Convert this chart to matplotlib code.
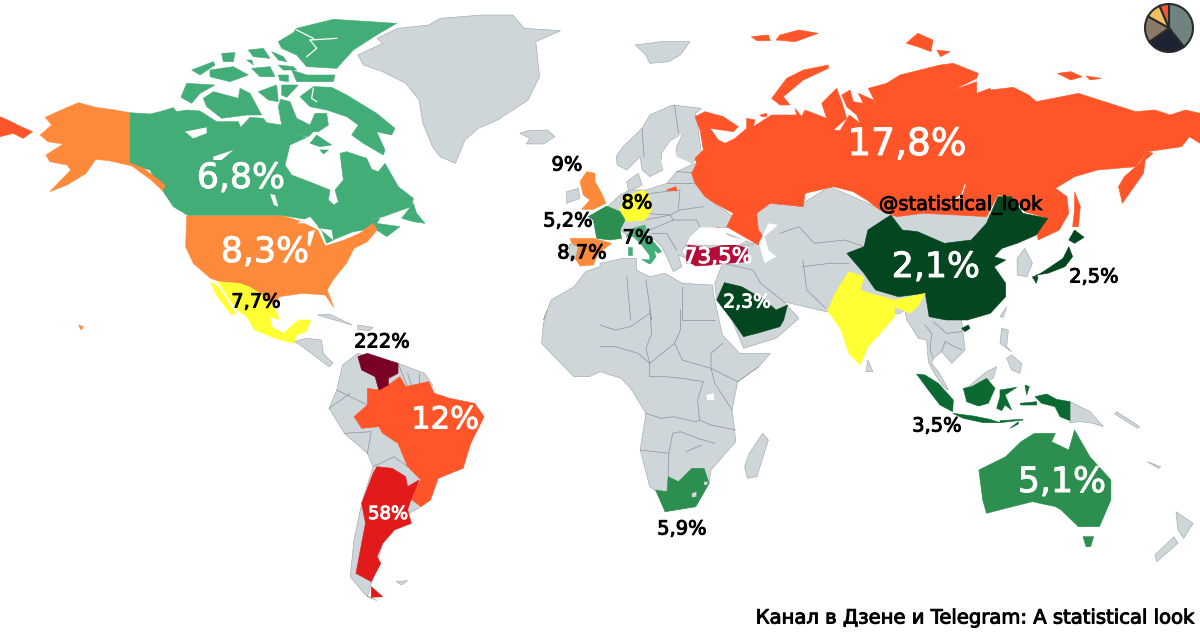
import matplotlib
matplotlib.use('Agg')
import matplotlib.pyplot as plt
import matplotlib.patheffects as pe
from matplotlib.patches import Polygon

def crop(ox, oy, sx=2.613, sy=3.0):
    def conv(points):
        return [(ox + x / sx, oy + y / sy) for x, y in points]
    return conv

nw = crop(0, 0)
ne = crop(600, 0)
sw = crop(0, 310)
se = crop(600, 310)
eu = crop(530, 140, 3.0, 3.0)
can = crop(150, 10, 3.0, 3.0)
rus = crop(690, 60, 3.0, 3.0)
sea = crop(890, 300, 3.0, 3.0)

GRAY = '#cfd6da'
CANADA = '#43ad78'
USA = '#fd8a3b'
RUSSIA = '#ff5529'
CHINA = '#04461f'
INDONESIA = '#0a6a32'
MID_GREEN = '#2c8f4f'
YELLOW = '#ffff33'
TURKEY = '#b50d3a'
VENEZUELA = '#7a0026'
ARGENTINA = '#e21a1c'

# gray land
greenland = nw([(935,165),(1000,130),(985,115),(1040,85),(1120,75),(1150,55),(1260,45),(1340,45),(1370,85),(1465,92),(1400,125),(1410,230),(1380,300),(1300,360),(1250,385),(1215,420),(1190,490),(1150,470),(1130,440),(1105,370),(1095,300),(1060,250),(1000,215),(950,195)])
iceland = nw([(1358,400),(1380,392),(1430,390),(1450,410),(1420,432),(1375,432),(1385,415)])
svalbard = ne([(92,135),(160,125),(235,125),(210,165),(180,185),(130,190),(120,165)])
scandinavia = ne([(42,470),(60,440),(110,385),(130,345),(190,315),(265,325),(250,340),(258,400),(265,460),(240,490),(195,480),(200,440),(215,405),(185,420),(160,460),(165,510),(130,530),(110,510),(105,470),(70,510),(45,495)])
denmark = ne([(70,545),(100,520),(110,555),(75,575)])
europe = eu([(175,230),(235,198),(270,165),(300,150),(350,150),(410,130),(440,95),(495,70),(540,180),(610,230),(600,262),(510,262),(480,290),(470,312),(455,335),(470,355),(445,345),(455,380),(430,395),(410,350),(395,320),(360,285),(345,262),(320,265),(290,285),(270,270),(285,240),(270,215)])
caucasus = ne([(330,700),(410,735),(385,750),(345,735)])
ireland = eu([(110,155),(145,145),(150,175),(110,190)])
portugal = eu([(118,312),(145,320),(135,358),(120,360)])
asia = (ne([(225,790),(225,735),(400,735),(410,630),(440,610),(530,610),(600,560),(700,610),(760,640),(830,625),(1010,640),(1140,700),(1050,745),(1000,800),(1000,900)])
        + sea([(215,60),(225,150),(185,190),(155,155),(130,175),(125,190),(145,215),(165,250),(175,270),(160,260),(130,215),(115,185),(110,120),(85,115),(70,90),(50,60),(45,30),(30,40)])
        + ne([(590,935),(480,905)])
        + se([(520,25),(460,85),(375,115),(345,30)])
        + ne([(305,900),(300,850),(320,790)]))
korea = ne([(1090,775),(1110,745),(1130,790),(1115,830),(1090,825)])
africa = (nw([(1420,960),(1440,900),(1500,860),(1530,815),(1568,800)])
          + ne([(0,790),(60,775),(95,775),(95,810),(130,830),(170,820),(215,850),(295,855),(296,880)])
          + se([(320,75),(365,130),(445,130),(415,170),(360,215),(345,300),(355,395),(290,480),(285,520),(250,590),(170,605),(150,545),(130,530),(105,420),(120,310),(80,235),(55,205),(0,185)])
          + sw([(1540,200),(1500,200),(1440,130),(1415,100),(1420,40),(1430,0)]))
madagascar = se([(425,370),(440,390),(410,500),(385,505),(378,470),(390,430)])
south_america = sw([(860,295),(880,240),(895,165),(935,130),(1040,160),(1110,190),(1130,225),(1100,400),(1100,520),(1100,590),(1070,610),(1000,700),(960,860),(985,872),(955,855),(915,800),(925,690),(945,580),(975,470),(960,430),(900,370)])
central_america = sw([(770,95),(800,85),(840,90),(845,130),(870,160),(860,170),(825,140),(790,110)])
cuba = sw([(830,15),(860,12),(920,45),(880,32)])
hispaniola = sw([(935,45),(975,52),(965,62),(935,58)])
falkland = sw([(1035,815),(1065,812),(1050,825)])
png = sea([(540,305),(600,335),(640,380),(610,370),(570,365),(540,368)])
north_borneo = sea([(235,260),(290,215),(320,200),(310,235),(245,262)])
luzon = sea([(330,130),(335,85),(355,90),(350,140),(365,155)])
visayas = sea([(365,165),(395,190),(390,220),(365,210),(350,175)])
taiwan = sea([(330,50),(350,20),(340,52)])
sri_lanka = se([(700,150),(713,185),(695,185)])
nz_north = se([(1505,605),(1550,640),(1525,685),(1510,660)])
nz_south = se([(1500,680),(1510,700),(1455,755),(1450,735)])
new_caledonia = se([(1430,455),(1465,470),(1460,475)])
solomons = se([(1350,305),(1410,350),(1405,355),(1345,312)])
gray_land = [greenland, iceland, svalbard, scandinavia, denmark, europe, caucasus, ireland, asia, korea, africa,
             madagascar, south_america, central_america, cuba, hispaniola, falkland, png, north_borneo,
             luzon, visayas, taiwan, sri_lanka, nz_north, nz_south, new_caledonia, solomons]

# coloured countries
alaska = nw([(338,338),(300,330),(250,322),(205,308),(160,330),(118,352),(135,375),(105,405),(125,425),(165,432),(120,465),(130,485),(175,495),(185,510),(130,575),(175,555),(225,520),(250,478),(285,482),(345,498),(395,540),(425,572),(432,555),(375,505),(338,488)])
lower48 = nw([(488,648),(740,648),(780,662),(830,690),(850,738),(900,720),(940,700),(975,670),(985,690),(960,725),(925,745),(905,790),(870,840),(855,870),(872,922),(850,885),(790,880),(730,890),(715,915),(680,880),(650,860),(625,850),(590,850),(550,835),(505,790),(485,740)])
hawaii = sw([(205,45),(218,50),(212,60)])
canada_main = (nw([(338,338)])
               + can([(0,312),(30,305),(70,293),(80,305),(110,300),(150,303),(200,335),(265,335),(272,352),(300,322),(340,325),(350,338),(395,345),(385,290),(392,268),(420,275),(440,325),(480,345),(495,310),(530,310),(535,345),(505,365),(490,365),(475,380),(440,372),(470,382),(420,405),(405,465),(425,495),(490,520),(540,540),(535,570),(552,585),(565,575),(555,540),(580,510),(570,430),(590,425),(650,445),(665,478),(685,485),(705,460),(745,530),(790,565),(785,590),(755,600),(700,620),(655,630),(690,625),(680,640),(750,650),(710,680),(680,660),(670,640),(640,660),(610,665),(560,685),(530,700),(515,660),(480,630),(400,617),(115,617),(70,590),(50,560),(15,510),(0,480)])
               + nw([(375,505),(338,488)]))
newfoundland = can([(755,625),(790,580),(800,610),(825,640),(790,635)])
banks = can([(93,262),(110,220),(195,225),(150,250),(125,280)])
victoria = can([(160,265),(190,245),(265,265),(270,235),(300,250),(335,315),(290,315),(215,325),(170,290)])
prince_wales = can([(325,245),(380,225),(385,275),(355,270)])
somerset = can([(395,225),(445,225),(410,262),(395,255)])
southampton = can([(480,400),(500,375),(545,405),(510,410)])
coats = can([(510,420),(535,420),(520,432)])
baffin = can([(450,260),(490,230),(545,232),(590,255),(680,310),(735,355),(725,375),(680,365),(705,420),(700,435),(640,400),(605,375),(625,345),(590,320),(530,300),(480,290)])
devon = can([(425,180),(470,195),(555,195),(550,215),(440,215)])
ellesmere = can([(385,95),(430,68),(440,55),(550,28),(740,40),(680,75),(610,120),(560,175),(470,170),(440,135),(395,115)])
melville = can([(180,180),(250,170),(295,195),(240,215),(180,200)])
patrick = can([(125,180),(190,155),(195,165),(150,195)])
bathurst = can([(305,175),(360,170),(375,200),(330,200)])
cornwallis = can([(385,195),(415,195),(415,215),(390,212)])
small_a = can([(295,120),(340,115),(360,145),(310,140)])
small_b = can([(365,125),(400,140),(410,155),(385,150)])
small_c = can([(215,130),(255,128),(250,155),(220,155)])
small_d = can([(385,165),(430,170),(440,180),(400,180)])
small_e = can([(290,150),(305,150),(310,165)])
chukotka = nw([(0,350),(20,360),(55,380),(85,395),(60,415),(35,400),(0,410)])
russia_main = (rus([(15,170),(45,155),(100,170),(145,200),(130,215),(60,205),(85,240),(105,250),(135,235),(170,205),(170,175),(195,180),(190,200),(245,165),(320,165),(315,145),(335,170),(345,150),(410,175),(395,130),(440,85),(455,125),(470,175),(430,210),(450,212),(478,165),(510,190),(500,165),(470,140),(455,105),(480,90),(490,125),(520,130),(505,100),(550,120),(565,145),(535,85),(590,70),(630,45),(750,15),(790,10),(865,40),(860,55),(790,90),(860,65),(860,100),(900,85)])
               + ne([(1020,270),(1080,262),(1120,285),(1140,305),(1250,280),(1400,335),(1450,330),(1490,345),(1530,330),(1568,340),(1568,430),(1540,410),(1520,440),(1430,455),(1400,500),(1300,510),(1240,530),(1190,565),(1220,590),(1225,640),(1200,690),(1145,720),(1140,690),(1170,655),(1110,635),(1075,590),(1040,585),(1010,650)])
               + rus([(800,465),(700,460),(620,470),(570,450),(530,420),(490,395),(430,380),(345,400),(340,440),(240,430),(200,460),(205,510),(220,530),(205,555),(110,500),(130,460),(75,430),(45,410),(15,370),(5,340),(20,310),(15,295),(40,270),(30,210)]))
novaya_zemlya = rus([(245,115),(290,55),(340,30),(415,15),(415,25),(340,60),(280,110),(300,135),(270,135)])
kolguev = rus([(210,165),(230,160),(230,170),(215,170)])
severnaya_a = ne([(800,130),(830,100),(870,120),(865,155),(830,140)])
severnaya_b = ne([(880,150),(915,155),(890,170)])
franz_josef = ne([(395,110),(440,105),(445,122),(410,122)])
franz_josef_b = ne([(470,105),(520,90),(570,100),(510,125),(460,120)])
new_siberia_a = ne([(1195,220),(1230,215),(1260,230),(1230,240)])
new_siberia_b = ne([(1270,228),(1310,235),(1280,240)])
kamchatka = ne([(1430,455),(1410,490),(1370,530),(1355,560),(1365,610),(1420,520),(1425,480),(1445,460)])
sakhalin = ne([(1240,575),(1255,620),(1250,680),(1235,680),(1240,630)])
kaliningrad = eu([(408,150),(438,140),(440,153)])
crimea = eu([(540,265),(565,262),(550,282)])
china = (ne([(760,645),(790,690),(830,695),(900,730),(970,720),(1010,670),(1040,590),(1075,590),(1105,640),(1170,655),(1140,705),(1090,730),(1050,745),(1030,770),(1060,780),(1030,800),(1060,850),(1060,890),(1020,940)])
         + se([(1020,10),(960,30),(905,30),(860,20)])
         + ne([(850,880),(780,890),(720,870),(690,820),(645,760),(690,740),(700,690)]))
hainan = sea([(215,85),(235,75),(240,85),(225,95)])
india = (ne([(650,815),(690,830),(680,870),(705,880),(770,900),(850,880),(830,920),(810,940),(790,930),(770,920)])
         + se([(770,20),(740,60),(700,110),(680,165),(650,130),(630,60),(600,10)])
         + ne([(595,935),(610,890),(625,860)]))
japan_a = ne([(1240,690),(1265,712),(1240,730),(1225,720)])
japan_b = ne([(1225,740),(1235,770),(1215,800),(1170,820),(1140,825),(1130,835),(1165,810),(1210,775)])
japan_c = ne([(1130,830),(1145,830),(1140,850)])
saudi = (ne([(325,848),(370,860),(430,900),(460,930),(490,915)])
         + se([(480,30),(470,50),(410,70),(375,80),(345,30)])
         + ne([(305,900)]))
turkey = ne([(230,735),(290,745),(340,730),(385,745),(385,785),(330,790),(290,795),(250,798),(225,780)])
germany = eu([(285,170),(340,150),(355,165),(365,210),(345,240),(290,245),(270,210)])
france = eu([(230,198),(270,215),(285,240),(270,270),(275,295),(240,300),(200,295),(190,240),(175,230)])
spain = eu([(120,295),(190,295),(245,310),(205,340),(190,375),(150,378),(135,355),(145,320),(125,310)])
uk = eu([(170,95),(195,100),(195,125),(215,160),(228,190),(190,208),(155,208),(180,180),(160,165),(150,125)])
italy = eu([(288,290),(310,265),(345,255),(350,285),(375,310),(395,335),(385,340),(372,330),(378,350),(362,372),(358,345),(335,315),(310,290)])
sicily = eu([(335,358),(365,360),(358,372)])
sardinia = eu([(293,322),(305,322),(305,345),(293,345)])
venezuela = sw([(935,140),(960,130),(1000,145),(1040,160),(1040,190),(1015,205),(1015,225),(990,240),(980,200),(945,180)])
brazil = sw([(960,235),(990,240),(1015,225),(1045,200),(1060,230),(1120,215),(1135,250),(1175,265),(1240,280),(1265,320),(1230,400),(1210,475),(1145,505),(1125,570),(1100,590),(1065,560),(1100,510),(1065,470),(1040,400),(1000,370),(990,350),(945,355),(925,320),(960,285)])
argentina = sw([(985,470),(1025,475),(1060,500),(1065,530),(1095,510),(1075,565),(1065,600),(1075,640),(1030,660),(1000,700),(985,740),(995,760),(970,815),(930,790),(955,640),(945,580),(975,490)])
fuego = sw([(970,830),(1000,860),(970,862)])
mexico = (nw([(570,845),(625,850),(650,860),(680,880),(715,915),(730,960)])
          + sw([(705,20),(710,50),(740,70),(780,30),(812,30),(800,65),(775,75),(768,100),(720,85),(665,60),(645,20),(620,0)])
          + nw([(600,900)]))
baja = nw([(550,845),(570,860),(615,940),(605,945),(565,885)])
sumatra = sea([(80,222),(105,225),(145,250),(190,300),(188,335),(150,315),(115,270)])
java = sea([(188,340),(250,348),(300,358),(330,368),(280,368),(220,355)])
lesser_sunda = sea([(330,362),(395,358),(400,360),(330,368)])
timor = sea([(360,385),(385,365),(385,372)])
borneo = sea([(220,265),(245,260),(290,235),(315,265),(295,310),(265,318),(230,305)])
sulawesi = sea([(330,270),(380,262),(345,285),(365,330),(345,315),(335,332),(320,325),(330,290)])
halmahera = sea([(405,255),(418,260),(410,285)])
seram = sea([(390,310),(440,305),(440,315),(392,315)])
papua = sea([(435,290),(470,282),(500,298),(540,305),(540,362),(510,350),(495,320),(455,310)])
australia = se([(1135,370),(1190,370),(1180,395),(1225,420),(1240,360),(1280,440),(1335,510),(1335,570),(1305,650),(1250,650),(1205,600),(1190,590),(1130,575),(1060,595),(1010,610),(1000,570),(990,480),(1060,440),(1100,395)])
tasmania = se([(1262,680),(1290,680),(1282,710),(1270,710)])
south_africa = se([(145,540),(175,545),(178,500),(205,515),(240,475),(272,475),(285,520),(250,590),(170,605)])

coloured = [
    (canada_main, CANADA), (newfoundland, CANADA), (banks, CANADA), (victoria, CANADA), (prince_wales, CANADA),
    (somerset, CANADA), (southampton, CANADA), (coats, CANADA), (baffin, CANADA), (devon, CANADA),
    (ellesmere, CANADA), (melville, CANADA), (patrick, CANADA), (bathurst, CANADA), (cornwallis, CANADA),
    (small_a, CANADA), (small_b, CANADA), (small_c, CANADA), (small_d, CANADA), (small_e, CANADA),
    (alaska, USA), (lower48, USA), (hawaii, USA), (uk, USA), (spain, USA),
    (chukotka, RUSSIA), (russia_main, RUSSIA), (novaya_zemlya, RUSSIA), (kolguev, RUSSIA), (severnaya_a, RUSSIA),
    (severnaya_b, RUSSIA), (franz_josef, RUSSIA), (franz_josef_b, RUSSIA), (new_siberia_a, RUSSIA),
    (new_siberia_b, RUSSIA), (kamchatka, RUSSIA), (sakhalin, RUSSIA), (kaliningrad, RUSSIA), (crimea, RUSSIA),
    (brazil, RUSSIA),
    (china, CHINA), (hainan, CHINA), (japan_a, CHINA), (japan_b, CHINA), (japan_c, CHINA), (saudi, CHINA),
    (india, YELLOW), (germany, YELLOW), (mexico, YELLOW), (baja, YELLOW),
    (turkey, TURKEY), (venezuela, VENEZUELA), (argentina, ARGENTINA), (fuego, ARGENTINA),
    (france, MID_GREEN), (australia, MID_GREEN), (tasmania, MID_GREEN), (south_africa, MID_GREEN),
    (italy, CANADA), (sicily, CANADA), (sardinia, CANADA),
    (sumatra, INDONESIA), (java, INDONESIA), (lesser_sunda, INDONESIA), (timor, INDONESIA), (borneo, INDONESIA),
    (sulawesi, INDONESIA), (halmahera, INDONESIA), (seram, INDONESIA), (papua, INDONESIA),
]

# lakes and inland seas, drawn white over the land
baltic = ne([(165,510),(160,480),(180,430),(215,400),(195,440),(200,470),(240,490),(195,495),(180,520)])
black_sea = eu([(470,310),(480,290),(510,262),(560,262),(600,290),(650,300),(625,315),(540,315)])
caspian = ne([(440,670),(465,675),(430,710),(440,750),(460,770),(430,790),(415,730)])
great_bear = can([(105,365),(170,352),(170,370),(130,385)])
great_slave = can([(190,440),(250,420),(215,450),(190,450)])
winnipeg = can([(360,552),(375,555),(385,590),(372,585)])
superior = can([(440,640),(480,620),(505,650),(470,640)])
michigan = can([(475,665),(495,660),(480,710),(473,705)])
huron = can([(510,655),(545,660),(550,690),(525,670)])
victoria_lake = se([(278,255),(298,250),(298,270),(280,270)])
water = [baltic, black_sea, caspian, great_bear, great_slave, winnipeg, superior, michigan, huron, victoria_lake]

baikal = rus([(825,375),(815,405),(785,425),(810,410)])
fjords = [
    can([(480,90),(560,85)]),
    can([(480,90),(500,115),(470,140)]),
    can([(440,60),(490,85)]),
    can([(490,235),(485,265),(500,275)]),
    baikal,
]
lesotho = se([(240,550),(252,545),(252,560),(240,562)])
eswatini = se([(272,515),(282,515),(280,525),(272,525)])

# thin borders between the gray countries
border_lines = [
    se([(130,0),(135,70),(120,115),(130,160),(130,200),(170,200),(215,205),(270,215),(255,270),(260,330),(290,345),(355,360)]),
    se([(195,100),(215,150),(290,175),(300,220),(345,300)]),
    se([(210,0),(210,60),(195,100),(130,160)]),
    se([(320,100),(290,130),(290,175),(360,215),(415,170)]),
    se([(120,310),(160,325),(190,320),(250,335),(260,330)]),
    se([(105,420),(180,430),(178,500)]),
    se([(180,430),(190,370),(210,365),(255,385),(300,400)]),
    se([(225,425),(265,405)]),
    se([(0,45),(40,60),(80,50),(130,10)]),
    se([(0,110),(40,110),(100,130),(130,160)]),
    sea([(105,75),(125,100),(120,150),(130,175)]),
    sea([(130,65),(170,100),(215,95)]),
    sea([(155,155),(165,125),(215,150)]),
    ne([(70,830),(80,960)]),
    ne([(120,840),(135,960)]),
    ne([(215,860),(215,960),(300,960)]),
    ne([(320,790),(400,810),(420,850),(480,905)]),
    ne([(470,700),(520,680),(560,730),(640,720),(690,740)]),
    ne([(530,780),(540,870),(590,925)]),
    ne([(530,800),(600,790),(650,790)]),
    ne([(110,385),(115,470)]),
    ne([(195,315),(205,400)]),
    eu([(360,160),(450,150),(445,210)]),
    eu([(345,240),(420,225),(450,210),(520,200)]),
    eu([(360,270),(430,240),(500,240),(510,262)]),
    eu([(365,280),(410,280),(440,330)]),
    eu([(410,130),(490,130)]),
    eu([(440,95),(520,100)]),
    eu([(340,220),(420,225),(430,240)]),
    sw([(880,240),(960,285)]),
    sw([(860,295),(915,250)]),
    sw([(900,370),(970,365),(960,430)]),
    sw([(975,470),(1030,440),(1065,470)]),
    sw([(1040,160),(1065,230)]),
    sw([(1065,190),(1075,225)]),
    sw([(1095,190),(1095,220)]),
]

# percent labels
big_labels = ['6,8%', '17,8%', '8,3%', '2,1%', '12%', '5,1%']
big_x = [241, 907, 265, 936, 445, 1062]
big_y = [178, 145, 252, 267, 420, 482]
big_sizes = [25, 27, 25, 25, 22, 25]
small_white = ['58%', '73,5%', '2,3%']
small_white_x = [388, 718, 747]
small_white_y = [514, 257, 302]
small_white_sizes = [13, 15.5, 13.5]
black_labels = ['222%', '7,7%', '9%', '5,2%', '8,7%', '8%', '7%', '2,5%', '3,5%', '5,9%']
black_x = [382, 256, 567, 568, 582, 637, 638, 1094, 937, 682]
black_y = [342, 302, 165, 221, 253, 203, 238, 277, 426, 529]

pie_values = [142, 93, 64, 38, 23]
pie_colors = ['#6f8480', '#1e2333', '#8b7b66', '#f2c15f', '#f05a33']

fig = plt.figure(figsize=(12, 6.32), dpi=100, facecolor='white')
ax = fig.add_axes([0, 0, 1, 1])
ax.set_xlim(0, 1200)
ax.set_ylim(632, 0)
ax.axis('off')

for shape in gray_land:
    ax.add_patch(Polygon(shape, closed=True, facecolor=GRAY, edgecolor='#9aa2a8', linewidth=0.4, zorder=1))
for line in border_lines:
    ax.plot([p[0] for p in line], [p[1] for p in line], color='#8a9298', linewidth=0.5, zorder=2)
for shape, colour in coloured:
    ax.add_patch(Polygon(shape, closed=True, facecolor=colour, edgecolor=colour, linewidth=0.4, zorder=3))
ax.add_patch(Polygon(portugal, closed=True, facecolor=GRAY, edgecolor='#9aa2a8', linewidth=0.4, zorder=4))
for shape in water:
    ax.add_patch(Polygon(shape, closed=True, facecolor='white', edgecolor='none', zorder=5))
for line in fjords:
    ax.plot([p[0] for p in line], [p[1] for p in line], color='white', linewidth=0.9, zorder=5)
ax.add_patch(Polygon(lesotho, closed=True, facecolor=GRAY, edgecolor='none', zorder=5))
ax.add_patch(Polygon(eswatini, closed=True, facecolor=GRAY, edgecolor='none', zorder=5))

def put_text(x, y, label, colour, size):
    ax.text(x, y, label, color=colour, fontsize=size, ha='center', va='center', zorder=6,
            path_effects=[pe.withStroke(linewidth=0.7, foreground=colour)])

for label, x, y, size in zip(big_labels, big_x, big_y, big_sizes):
    put_text(x, y, label, 'white', size)
for label, x, y, size in zip(small_white, small_white_x, small_white_y, small_white_sizes):
    put_text(x, y, label, 'white', size)
for label, x, y in zip(black_labels, black_x, black_y):
    put_text(x, y, label, 'black', 14)

put_text(961, 205, '@statistical_look', 'black', 14)
put_text(975, 618, 'Канал в Дзене и Telegram: A statistical look', 'black', 14.1)

# small pie in the corner
pie_ax = fig.add_axes([(1169 - 26.4) / 1200, 1 - (28 + 26.4) / 632, 52.8 / 1200, 52.8 / 632])
pie_ax.pie(pie_values, colors=pie_colors, startangle=90, counterclock=False,
           wedgeprops={'edgecolor': '#2b2b2b', 'linewidth': 1.5})
pie_ax.set_xlim(-1.1, 1.1)
pie_ax.set_ylim(-1.1, 1.1)

plt.savefig('out.png', dpi=100)
plt.close()
